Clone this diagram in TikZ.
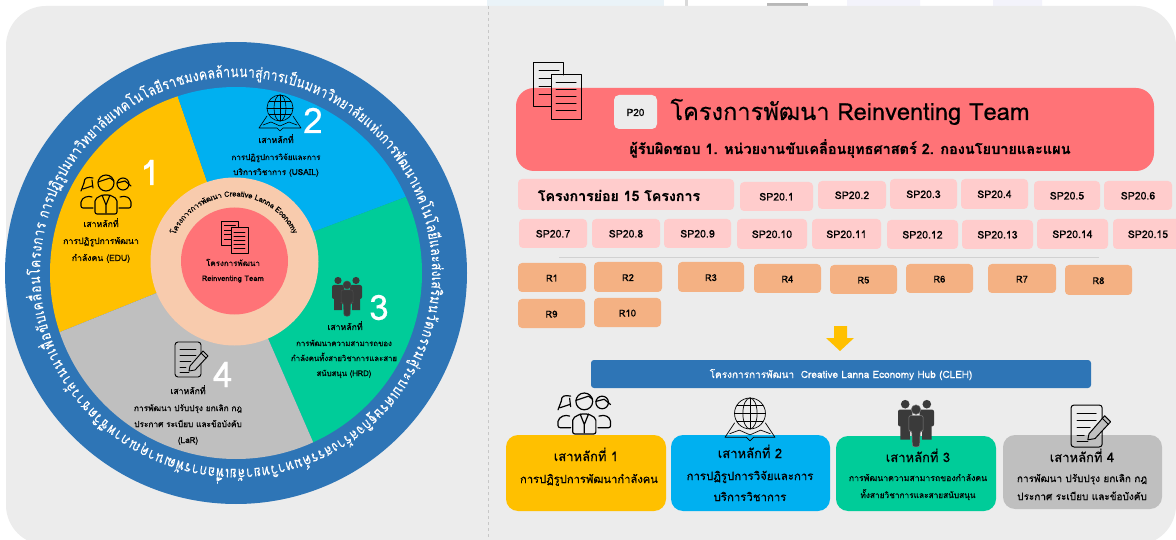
\documentclass[tikz,border=0pt]{standalone}
\usepackage{fontspec}
\setmainfont[Script=Thai,FakeBold=0.4]{Loma}
\newfontfamily\ringfont[Script=Thai,FakeStretch=0.8,FakeBold=0.2]{Loma}
\definecolor{panel}{HTML}{ECECEC}
\definecolor{ringblue}{HTML}{2E75B6}
\definecolor{pyellow}{HTML}{FFC000}
\definecolor{pblue}{HTML}{00B0F0}
\definecolor{pgreen}{HTML}{00CC99}
\definecolor{pgray}{HTML}{BFBFBF}
\definecolor{ppeach}{HTML}{F8CBAD}
\definecolor{pred}{HTML}{FF7377}
\definecolor{ppink}{HTML}{FFCCCC}
\definecolor{porange}{HTML}{F4B183}
\definecolor{icondark}{HTML}{3A3A3A}
\definecolor{restblue}{HTML}{EAF3F8}
\definecolor{restlav}{HTML}{F3F3FB}
\tikzset{
  every node/.style={inner sep=0pt,outer sep=0pt},
  txt/.style={font=\fontsize{#1}{#1}\selectfont,text height=.85em,text depth=.05em,anchor=center},
  txb/.style={font=\fontsize{#1}{#1}\bfseries\selectfont,text height=.85em,text depth=.05em,anchor=center},
  spbox/.style={fill=ppink,rounded corners=4pt,font=\fontsize{10.5}{10.5}\selectfont},
  rbox/.style={fill=porange,rounded corners=4pt,font=\fontsize{9.5}{9.5}\selectfont},
  pillar/.style={rounded corners=12pt},
  icon/.style={line width=#1,color=black,line cap=round,line join=round},
}
\newcommand\bx[6]{\node[#5,minimum width={#3-#1},minimum height={#4-#2},text height=.85em,text depth=.05em] (#6) at ({(#1+#3)/2},{(#2+#4)/2})}
\newdimen\atsum \newdimen\atcum \newcount\atidx
\def\spc{~}
\def\spcx{\spc}
\newcommand\measurecl[2]{\setbox0\hbox{\pgfinterruptpicture#1#2\endpgfinterruptpicture}}
% cx cy r start end font colour prefix clusters
\newcommand\arctext[9]{%
  \global\atsum=0pt \global\atcum=0pt \global\atidx=0
  \foreach \cl in {#9}{\measurecl{#6}{\cl}\global\advance\atsum by \wd0 }%
  \pgfmathsetmacro\atk{(#4-(#5))/\the\atsum}%
  \foreach \cl in {#9}{%
    \measurecl{#6}{\cl}%
    \pgfmathsetmacro\atang{#4-(\the\atcum+0.5*\the\wd0)*\atk}%
    \global\advance\atcum by \wd0
    \global\advance\atidx by 1
    \ifx\cl\spcx\else
    \node[anchor=base,rotate=\atang-90,text=#7,name=#8\the\atidx] at ({#1+#3*cos(\atang)},{#2-#3*sin(\atang)}) {#6\cl};
    \fi
  }%
}
% icons
\newcommand\docsicon[4]{\begin{scope}[shift={(#1,#2)},scale=#3,icon=#4]
  \draw (18,44) -- (0,44) -- (0,0) -- (30,0) -- (30,12);
  \foreach \yy/\xe in {8/26,16/18,24/18,32/18}{\draw (6,\yy) -- (\xe,\yy);}
  \draw (18,12) rectangle (48,57);
  \foreach \yy in {20,27,34,41,48}{\draw (23,\yy) -- (43,\yy);}
\end{scope}}
\newcommand\busticon[4]{\begin{scope}[shift={(#1,#2)},scale=#3,icon=#4]
  \draw (26,8) circle (8);
  \draw (18,7) -- (30,3) -- (34,6);
  \draw[rounded corners=2pt] (15,39) -- (15,24) -- (22,20) -- (30,20) -- (37,24) -- (37,39) -- cycle;
  \draw (22,20) -- (26,30) -- (30,20) (26,30) -- (26,38);
  \draw (4,8) .. controls (4,2) and (8,2) .. (13,3);
  \draw (3,14) -- (12,11) (1,16) -- (4,8) (12,5) -- (13,13);
  \draw[rounded corners=2pt] (13,33) -- (1,33) -- (1,25) -- (7,21) -- (12,22);
  \draw (43,9) circle (6);
  \draw (37,8) -- (45,6) -- (51,11);
  \draw[rounded corners=2pt] (39,33) -- (51,33) -- (51,25) -- (46,21) -- (40,22);
\end{scope}}
\newcommand\globeicon[4]{\begin{scope}[shift={(#1,#2)},scale=#3,icon=#4]
  \draw (21,13) circle (13);
  \draw (21,13) ellipse (6 and 13);
  \draw (21,0) -- (21,26) (8,13) -- (34,13);
  \draw (10,6.5) -- (32,6.5) (10,19.5) -- (32,19.5);
  \draw (8,21) -- (0,33) -- (18,33) -- (21,36) -- (24,33) -- (42,33) -- (34,21);
  \draw (4,30) -- (12,27) -- (21,31) -- (30,27) -- (38,30);
\end{scope}}
\newcommand\crowdicon[4]{\begin{scope}[shift={(#1,#2)},scale=#3]
  \fill[icondark] (6,3.5) circle (3.6) (24,3.5) circle (3.6);
  \fill[icondark,rounded corners=2pt] (0,8) rectangle (12,22);
  \fill[icondark,rounded corners=2pt] (18,8) rectangle (30,22);
  \fill[icondark] (2,20) rectangle (10,33) (20,20) rectangle (28,33);
  \draw[#4,fill=icondark,line width=.5pt] (15,8) circle (4);
  \draw[#4,fill=icondark,rounded corners=2pt,line width=.5pt] (9,13) -- (21,13) -- (21,26) -- (18.5,26) -- (18,39) -- (12,39) -- (11.5,26) -- (9,26) -- cycle;
\end{scope}}
\newcommand\noteicon[5]{\begin{scope}[shift={(#1,#2)},scale=#3,icon=#4]
  \draw[rounded corners=3pt] (0,0) rectangle (26,35);
  \foreach \yy/\xe in {7/21,13/21,19/16,25/11}{\draw (5,\yy) -- (\xe,\yy);}
  \draw (5,30) -- (14,30);
  \draw[fill=#5] (14,29) -- (15,24) -- (28,9) -- (33,14) -- (20,28) -- cycle;
  \draw (26,11) -- (31,16);
\end{scope}}
\begin{document}
\begin{tikzpicture}[x=1pt,y=-1pt]
\useasboundingbox (0,0) rectangle (1176,540);
\clip (0,0) rectangle (1176,540);
\fill[white] (0,0) rectangle (1176,540);
% faint remains above the panel
\fill[restblue] (487,0) rectangle (664,7);
\fill[black!15] (685,0) rectangle (688,7);
\fill[black!28] (767,3) rectangle (808,7);
\fill[restlav] (847,0) rectangle (920,7) (993,0) rectangle (1042,7);
\fill[panel,rounded corners=40pt] (6,6) rectangle (1176,545);
\draw[black!22,dashed,line width=.6pt] (488,6) -- (488,540);
% wheel
\fill[ringblue] (236,273) circle (231);
\begin{scope}
  \clip (236,273) circle (186);
  \fill[pyellow] (234.5,261.5) -- (-202,438) -- (-300,-150) -- (93,-150) -- cycle;
  \fill[pblue] (234.5,261.5) -- (93,-150) -- (700,-150) -- (663,100) -- cycle;
  \fill[pgreen] (234.5,261.5) -- (663,100) -- (700,713) -- (431,713) -- cycle;
  \fill[pgray] (234.5,261.5) -- (431,713) -- (-300,713) -- (-202,438) -- cycle;
\end{scope}
\fill[ppeach] (234.5,261.5) circle (84);
\fill[pred] (234.5,261) circle (53.5);
% ring text
\def\rf{\ringfont\fontsize{15}{15}\selectfont}
\arctext{236}{273}{196}{164}{-9}{\rf}{white}{rga}{ก,า,ร,ป,ฏิ,รู,ป,ม,ห,า,วิ,ท,ย,า,ลั,ย,เ,ท,ค,โ,น,โ,ล,ยี,ร,า,ช,ม,ง,ค,ล,ล้,า,น,น,า,สู่,ก,า,ร,เ,ป็,น,ม,ห,า,วิ,ท,ย,า,ลั,ย,แ,ห่,ง,ก,า,ร,พั,ฒ,น,า,เ,ท,ค,โ,น,โ,ล,ยี,แ,ล,ะ,ส่,ง,เ,ส,ริ,ม}
\arctext{236}{273}{196}{-9}{-196}{\rf}{white}{rgb}{น,วั,ต,ก,ร,ร,ม,สู่,ร,ะ,บ,บ,เ,ศ,ร,ษ,ฐ,กิ,จ,ส,ร้,า,ง,ส,ร,ร,ค์,ม,ห,า,วิ,ท,ย,า,ลั,ย,เ,พื่,อ,ก,า,ร,พั,ฒ,น,า,คุ,ณ,ภ,า,พ,ชี,วิ,ต,ช,า,ว,ล้,า,น,น,า,เ,พื่,อ,ขั,บ,เ,ค,ลื่,อ,น,โ,ค,ร,ง,ก,า,ร,\spc}
\def\pf{\fontsize{7.6}{7.6}\selectfont}
\arctext{234.5}{261.5}{65}{156}{25}{\pf}{black}{rgc}{โ,ค,ร,ง,ก,า,ร,ก,า,ร,พั,ฒ,น,า,\spc,C,r,e,a,t,i,v,e,\spc,L,a,n,n,a,\spc,E,c,o,n,o,m,y}
% wheel centre
\docsicon{221}{221}{0.56}{.6pt}
\node[txt=8] (c1) at (233,262) {โครงการพัฒนา};
\node[txt=7.6] (c2) at (233,277) {Reinventing Team};
% pillar 1
\busticon{80}{175}{1}{1.1pt}
\node[txt=35,text=white] (n1) at (150,181) {1};
\node[txt=8.7] (p1a) at (101,223) {เสาหลักที่};
\node[txt=8.7] (p1b) at (101,240) {การปฏิรูปการพัฒนา};
\node[txt=8.7] (p1c) at (101,257) {กำลังคน (EDU)};
% pillar 2
\globeicon{259}{95}{1}{.6pt}
\node[txt=35,text=white] (n2) at (313,129) {2};
\node[txt=8.7] (p2a) at (276,139) {เสาหลักที่};
\node[txt=8] (p2b) at (276,156) {การปฏิรูปการวิจัยและการ};
\node[txt=8.3] (p2c) at (276,171) {บริการวิชาการ (USAIL)};
% pillar 3
\crowdicon{332}{277}{1}{black!70}
\node[txt=35,text=white] (n3) at (379,316) {3};
\node[txt=8.7] (p3a) at (345,326) {เสาหลักที่};
\node[txt=7.8] (p3b) at (344,342) {การพัฒนาความสามารถของ};
\node[txt=7.8] (p3c) at (344,357) {กำลังคนทั้งสายวิชาการและสาย};
\node[txt=7.8] (p3d) at (344,372) {สนับสนุน (HRD)};
% pillar 4
\noteicon{175}{342}{1}{.9pt}{pgray}
\node[txt=35,text=white] (n4) at (223,383) {4};
\node[txt=8.7] (p4a) at (188,390) {เสาหลักที่};
\node[txt=8.3] (p4b) at (188,407) {การพัฒนา ปรับปรุง ยกเลิก กฎ};
\node[txt=8.3] (p4c) at (188,423) {ประกาศ ระเบียบ และข้อบังคับ};
\node[txt=8.3] (p4d) at (188,439) {(LaR)};
% right: header
\fill[pred,rounded corners=18pt] (516,88) rectangle (1154,171);
\docsicon{533}{63}{1}{1pt}
\bx{614}{95}{657}{129}{fill=panel,rounded corners=5pt,font=\fontsize{10}{10}\selectfont}{p20} {P20};
\node[txt=23.6] (title) at (850,116) {โครงการพัฒนา Reinventing Team};
\node[txb=14.5] (sub) at (850,150) {ผู้รับผิดชอบ 1. หน่วยงานขับเคลื่อนยุทธศาสตร์ 2. กองนโยบายและแผน};
\fill[ppink,rounded corners=4pt] (518,179) rectangle (734,210);
\node[txb=14.2] (spht) at (619,197) {โครงการย่อย 15 โครงการ};
\bx{740}{182}{813}{211}{spbox}{sp1} {SP20.1};
\bx{818}{181}{886}{209}{spbox}{sp2} {SP20.2};
\bx{890}{179}{957}{209}{spbox}{sp3} {SP20.3};
\bx{961}{179}{1028}{209}{spbox}{sp4} {SP20.4};
\bx{1034}{181}{1100}{210}{spbox}{sp5} {SP20.5};
\bx{1104}{181}{1172}{210}{spbox}{sp6} {SP20.6};
\bx{519}{219}{587}{248}{spbox}{sp7} {SP20.7};
\bx{592}{219}{660}{248}{spbox}{sp8} {SP20.8};
\bx{664}{219}{731}{248}{spbox}{sp9} {SP20.9};
\bx{737}{219}{807}{249}{spbox}{sp10} {SP20.10};
\bx{812}{219}{881}{249}{spbox}{sp11} {SP20.11};
\bx{887}{220}{958}{249}{spbox}{sp12} {SP20.12};
\bx{962}{220}{1033}{249}{spbox}{sp13} {SP20.13};
\bx{1037}{219}{1108}{249}{spbox}{sp14} {SP20.14};
\bx{1113}{219}{1183}{249}{spbox}{sp15} {SP20.15};
\draw[black!18,line width=.7pt] (559,257) -- (1099,257);
\bx{518}{263}{586}{292}{rbox}{r1} {R1};
\bx{594}{262}{662}{292}{rbox}{r2} {R2};
\bx{678}{262}{744}{292}{rbox}{r3} {R3};
\bx{754}{264}{821}{293}{rbox}{r4} {R4};
\bx{830}{265}{897}{294}{rbox}{r5} {R5};
\bx{906}{264}{973}{293}{rbox}{r6} {R6};
\bx{988}{264}{1056}{293}{rbox}{r7} {R7};
\bx{1065}{265}{1132}{295}{rbox}{r8} {R8};
\bx{518}{299}{585}{328}{rbox}{r9} {R9};
\bx{594}{298}{661}{327}{rbox}{r10} {R10};
\fill[pyellow] (834,326) -- (847,326) -- (847,338) -- (854,338) -- (840,351) -- (826,338) -- (834,338) -- cycle;
\bx{591}{360}{1091}{388}{fill=ringblue,rounded corners=3pt,text=white,font=\fontsize{10}{10}\selectfont}{hub} {โครงการการพัฒนา\ \ Creative Lanna Economy Hub (CLEH)};
% bottom pillars
\fill[pyellow,pillar] (506,435) rectangle (666,511);
\fill[pblue,pillar] (671,435) rectangle (830,511);
\fill[pgreen,pillar] (836,436) rectangle (996,511);
\fill[pgray,pillar] (1003,435) rectangle (1162,509);
\busticon{557}{393}{1.05}{1.2pt}
\globeicon{725}{398}{1.19}{.7pt}
\crowdicon{898}{400}{1.2}{black!50}
\noteicon{1071}{405}{1.2}{1pt}{pgray}
\node[txt=13] (b1a) at (586,457) {เสาหลักที่ 1};
\node[txt=11.2] (b1b) at (589,479) {การปฏิรูปการพัฒนากำลังคน};
\node[txt=13] (b2a) at (750,454) {เสาหลักที่ 2};
\node[txt=11.4] (b2b) at (750,476) {การปฏิรูปการวิจัยและการ};
\node[txt=11.4] (b2c) at (750,497) {บริการวิชาการ};
\node[txt=13] (b3a) at (918,458) {เสาหลักที่ 3};
\node[txt=8.7] (b3b) at (918,477) {การพัฒนาความสามารถของกำลังคน};
\node[txt=8.3] (b3c) at (918,494) {ทั้งสายวิชาการและสายสนับสนุน};
\node[txt=13] (b4a) at (1082,458) {เสาหลักที่ 4};
\node[txt=10] (b4b) at (1082,478) {การพัฒนา ปรับปรุง ยกเลิก กฎ};
\node[txt=10] (b4c) at (1082,496) {ประกาศ ระเบียบ และข้อบังคับ};
\end{tikzpicture}
\end{document}
